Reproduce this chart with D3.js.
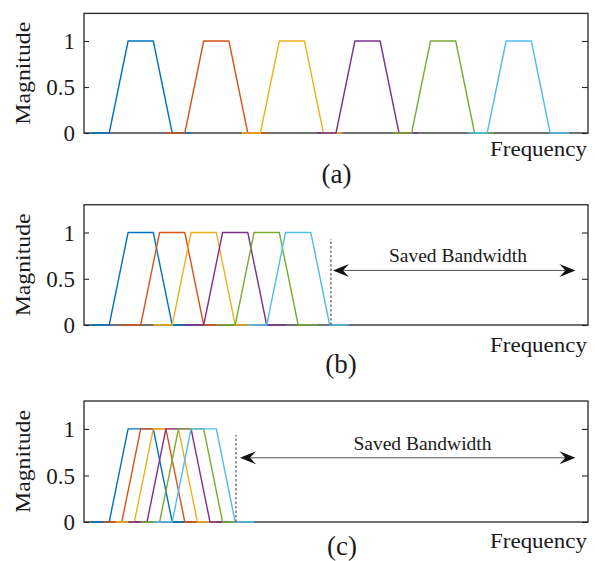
<!DOCTYPE html>
<html>
<head>
<meta charset="utf-8">
<script src="https://cdn.jsdelivr.net/npm/d3@7/dist/d3.min.js"></script>
<style>
  body { margin: 0; background: #fff; }
  svg { display: block; }
  text { font-family: "Liberation Serif", "Times New Roman", serif; fill: #1a1a1a; }
</style>
</head>
<body>
<svg id="chart" width="595" height="561"></svg>
<script>
// Line colours for the six sub-band filters
const filterColors = ["#0072BD", "#D95319", "#EDB120", "#7E2F8E", "#77AC30", "#4DBEEE"];

// Trapezoidal filter response: frequency offsets from the centre and magnitudes
const shapeOffsets = [-2, -1.25, -0.5, 0.5, 1.25, 2];
const shapeMagnitudes = [0, 0, 1, 1, 0, 0];

// Filter centre frequencies for each spacing scheme
const centersA = [2.25, 5.25, 8.25, 11.25, 14.25, 17.25];
const centersB = [2.25, 3.5, 4.75, 6, 7.25, 8.5];
const centersC = [2.25, 2.75, 3.25, 3.75, 4.25, 4.75];

// Axes
const freqDomain = [0, 20];
const magDomain = [0, 1.3];
const yTicks = [0, 0.5, 1];
const yTickLabels = ["0", "0.5", "1"];
const panelLabels = ["(a)", "(b)", "(c)"];

// "Saved Bandwidth" annotation per panel (null where absent)
const savedEdge = [null, 9.8, 6.03];       // dashed marker frequency
const savedEdgeTop = [null, 0.93, 0.935];  // dashed marker height
const savedStart = [null, 9.88, 6.19];     // arrow left tip
const savedEnd = [null, 19.5, 19.5];       // arrow right tip
const savedLevel = [null, 0.59, 0.69];     // arrow height
const savedTextX = [null, 14.84, 13.43];
const savedTextY = [null, 0.68, 0.775];
const savedText = "Saved Bandwidth";

const svg = d3.select("#chart");
const serif = "'Liberation Serif', 'Times New Roman', serif";

// Panel frames in pixels
const plotLeft = 84, plotRight = 588;
const panelTop = [13.4, 204.75, 401];
const panelBottom = [133, 325, 522];
const freqLabelY = [156, 351.5, 547.5];
const panelLabelY = [183, 372.5, 554.5];
const panelLabelX = [336.5, 341, 342];
const allCenters = [centersA, centersB, centersC];

const x = d3.scaleLinear().domain(freqDomain).range([plotLeft, plotRight]);

allCenters.forEach((centers, p) => {
  const y = d3.scaleLinear().domain(magDomain).range([panelBottom[p], panelTop[p]]);
  const g = svg.append("g");

  // Box
  g.append("rect")
    .attr("x", plotLeft).attr("y", panelTop[p])
    .attr("width", plotRight - plotLeft).attr("height", panelBottom[p] - panelTop[p])
    .attr("fill", "none").attr("stroke", "#262626").attr("stroke-width", 1.3);

  // Left axis with inward ticks and labels
  const left = g.append("g").attr("transform", `translate(${plotLeft},0)`)
    .call(d3.axisLeft(y).tickValues(yTicks).tickFormat((d, i) => yTickLabels[i])
      .tickSize(-5).tickSizeOuter(0).tickPadding(9));
  left.attr("font-family", serif);
  left.select(".domain").remove();
  left.selectAll(".tick line").attr("stroke", "#262626").attr("stroke-width", 1.1);
  left.selectAll(".tick text")
    .style("font-family", serif)
    .attr("font-size", 23).attr("fill", "#1a1a1a").attr("dy", "0.33em");

  // Right axis: inward ticks only
  const right = g.append("g").attr("transform", `translate(${plotRight},0)`)
    .call(d3.axisRight(y).tickValues(yTicks).tickFormat("").tickSize(-6).tickSizeOuter(0));
  right.select(".domain").remove();
  right.selectAll(".tick line").attr("stroke", "#262626").attr("stroke-width", 1.1);

  // Filter responses
  const line = d3.line().x(d => x(d[0])).y(d => y(d[1]));
  centers.forEach((c, i) => {
    const pts = shapeOffsets.map((o, k) => [c + o, shapeMagnitudes[k]]);
    g.append("path").datum(pts)
      .attr("d", line)
      .attr("fill", "none")
      .attr("stroke", filterColors[i])
      .attr("stroke-width", 1.4)
      .attr("stroke-linejoin", "round");
  });

  // Axis labels
  g.append("text")
    .attr("transform", `translate(30,${(panelTop[p] + panelBottom[p]) / 2}) rotate(-90)`)
    .attr("text-anchor", "middle")
    .style("font-family", serif)
    .attr("font-size", 21)
    .attr("textLength", 103).attr("lengthAdjust", "spacingAndGlyphs")
    .text("Magnitude");

  g.append("text")
    .attr("x", 587).attr("y", freqLabelY[p])
    .attr("text-anchor", "end")
    .style("font-family", serif)
    .attr("font-size", 20)
    .attr("textLength", 97).attr("lengthAdjust", "spacingAndGlyphs")
    .text("Frequency");

  g.append("text")
    .attr("x", panelLabelX[p]).attr("y", panelLabelY[p])
    .attr("text-anchor", "middle")
    .style("font-family", serif)
    .attr("font-size", 27)
    .text(panelLabels[p]);

  // Saved bandwidth annotation
  if (savedEdge[p] !== null) {
    g.append("line")
      .attr("x1", x(savedEdge[p])).attr("x2", x(savedEdge[p]))
      .attr("y1", y(0)).attr("y2", y(savedEdgeTop[p]))
      .attr("stroke", "#333").attr("stroke-width", 1)
      .attr("stroke-dasharray", "2.5,2");

    const ay = y(savedLevel[p]);
    const x0 = x(savedStart[p]), x1 = x(savedEnd[p]);
    g.append("line")
      .attr("x1", x0 + 8).attr("x2", x1 - 8)
      .attr("y1", ay).attr("y2", ay)
      .attr("stroke", "#555").attr("stroke-width", 1);

    const headLen = 16, headHalf = 6.5, notch = 10;
    const head = (tip, dir) => {
      const bx = tip - dir * headLen, nx = tip - dir * notch;
      return `M${tip},${ay} L${bx},${ay - headHalf} L${nx},${ay} L${bx},${ay + headHalf} Z`;
    };
    g.append("path").attr("d", head(x0, -1)).attr("fill", "#111");
    g.append("path").attr("d", head(x1, 1)).attr("fill", "#111");

    g.append("text")
      .attr("x", x(savedTextX[p])).attr("y", y(savedTextY[p]))
      .attr("text-anchor", "middle")
      .style("font-family", serif)
      .attr("font-size", 19.5)
      .text(savedText);
  }
});
</script>
</body>
</html>
